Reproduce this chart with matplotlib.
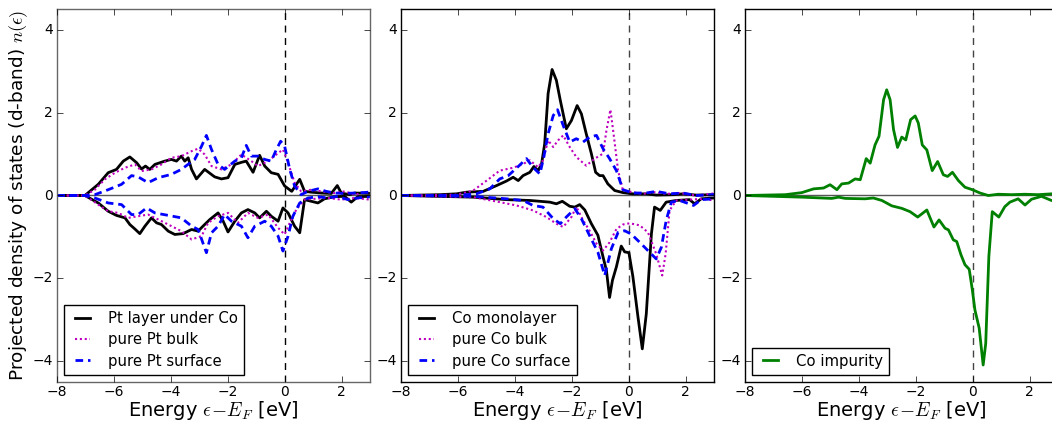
import matplotlib.pyplot as plt

plt.style.use('classic')
plt.rcParams['figure.facecolor'] = 'white'
plt.rcParams['savefig.facecolor'] = 'white'
plt.rcParams['font.family'] = ['DejaVu Sans']
plt.rcParams['mathtext.fontset'] = 'cm'
plt.rcParams['xtick.labelsize'] = 10
plt.rcParams['ytick.labelsize'] = 10
plt.rcParams['xtick.major.pad'] = 2.5
plt.rcParams['ytick.major.pad'] = 3

# ---- panel 1: Pt layer ----
pt_layer_up_e = [-8.0, -7.02, -6.55, -6.20, -5.91, -5.67, -5.44, -5.20, -5.03, -4.89, -4.74, -4.56, -4.21,
                 -3.98, -3.80, -3.63, -3.51, -3.39, -3.27, -3.10, -2.81, -2.46, -2.22, -1.99, -1.75, -1.52,
                 -1.35, -1.11, -0.88, -0.70, -0.47, -0.23, 0.0, 0.25, 0.53, 0.70, 0.94, 1.29, 1.64, 1.85,
                 1.99, 2.28, 2.46, 3.0]
pt_layer_up = [0, 0, 0.27, 0.55, 0.63, 0.83, 0.93, 0.79, 0.64, 0.71, 0.63, 0.75, 0.83,
               0.87, 0.83, 0.95, 0.83, 0.91, 0.63, 0.40, 0.63, 0.45, 0.40, 0.43, 0.75, 0.80,
               0.83, 0.56, 0.97, 0.71, 0.55, 0.51, 0.23, 0.10, 0.39, 0.10, 0.08, 0.06, 0.05, 0.24,
               0.06, 0.02, 0.06, 0.05]
pt_layer_dn_e = [-8.0, -7.02, -6.55, -6.20, -5.91, -5.61, -5.44, -5.26, -5.09, -4.91, -4.68, -4.50, -4.33,
                 -4.09, -3.86, -3.57, -3.27, -3.04, -2.87, -2.63, -2.34, -2.16, -1.99, -1.75, -1.52, -1.29,
                 -1.05, -0.88, -0.64, -0.47, -0.23, -0.06, 0.12, 0.35, 0.53, 0.70, 0.94, 1.17, 1.40, 1.75,
                 2.11, 2.34, 2.57, 3.0]
pt_layer_dn = [0, 0, -0.18, -0.38, -0.48, -0.54, -0.70, -0.81, -0.92, -0.74, -0.54, -0.66, -0.70,
               -0.86, -0.94, -0.92, -0.82, -0.86, -0.74, -0.58, -0.42, -0.62, -0.88, -0.62, -0.42, -0.34,
               -0.42, -0.54, -0.38, -0.50, -0.62, -0.30, -0.42, -0.74, -0.90, -0.10, -0.14, -0.18, -0.08, -0.03,
               -0.02, -0.16, -0.03, -0.02]

pt_bulk_up_e = [-8.0, -7.02, -6.67, -6.32, -5.96, -5.61, -5.26, -5.03, -4.68, -4.33, -3.98, -3.63, -3.27,
                -3.04, -2.81, -2.57, -2.22, -1.87, -1.52, -1.17, -0.94, -0.58, -0.29, -0.06, 0.12, 0.35,
                0.58, 0.94, 1.29, 1.75, 2.11, 2.46, 3.0]
pt_bulk_up = [0, 0, 0.14, 0.39, 0.55, 0.67, 0.75, 0.59, 0.63, 0.75, 0.91, 0.95, 1.07,
              1.13, 0.99, 0.71, 0.63, 0.75, 0.99, 0.83, 0.71, 0.83, 0.99, 1.11, 0.79, 0.31,
              0.10, 0.14, 0.10, 0.06, 0.10, 0.02, 0.10]
pt_bulk_dn_e = [-8.0, -7.02, -6.55, -6.20, -5.85, -5.50, -5.15, -4.80, -4.44, -4.09, -3.63, -3.27, -2.92,
                -2.69, -2.34, -1.99, -1.64, -1.29, -0.94, -0.58, -0.23, 0.0, 0.18, 0.41, 0.70, 1.05,
                1.52, 1.99, 2.46, 3.0]
pt_bulk_dn = [0, 0, -0.22, -0.38, -0.42, -0.54, -0.50, -0.46, -0.58, -0.70, -0.86, -1.06, -0.98,
              -0.66, -0.50, -0.42, -0.66, -0.42, -0.54, -0.46, -0.78, -0.94, -0.66, -0.34, -0.10, -0.08,
              -0.06, -0.10, -0.06, -0.10]

pt_surf_up_e = [-8.0, -7.02, -6.67, -6.20, -5.73, -5.38, -5.15, -4.80, -4.44, -3.98, -3.63, -3.16, -2.92,
                -2.75, -2.57, -2.34, -2.11, -1.75, -1.52, -1.35, -1.17, -0.94, -0.70, -0.47, -0.29, -0.14,
                0.0, 0.18, 0.35, 0.58, 0.82, 1.17, 1.46, 1.75, 2.11, 2.46, 3.0]
pt_surf_up = [0, 0, 0.02, 0.14, 0.27, 0.48, 0.45, 0.31, 0.43, 0.51, 0.63, 0.87, 1.19,
              1.45, 1.11, 0.75, 0.63, 0.83, 0.91, 1.21, 0.95, 0.95, 0.87, 0.83, 1.11, 1.31,
              1.19, 0.63, 0.23, 0.02, 0.10, 0.16, 0.10, 0.06, 0.05, 0.06, 0.08]
pt_surf_dn_e = [-8.0, -7.02, -6.67, -6.20, -5.73, -5.38, -5.15, -4.85, -4.56, -4.09, -3.63, -3.27, -3.04,
                -2.75, -2.57, -2.34, -2.11, -1.87, -1.52, -1.29, -1.05, -0.70, -0.47, -0.23, -0.06, 0.12,
                0.29, 0.53, 0.82, 1.17, 1.52, 1.87, 2.22, 2.57, 3.0]
pt_surf_dn = [0, 0, -0.06, -0.18, -0.22, -0.46, -0.46, -0.30, -0.42, -0.48, -0.54, -0.74, -0.82,
              -1.38, -0.90, -0.74, -0.46, -0.62, -0.74, -1.02, -0.74, -0.62, -0.74, -0.98, -1.34, -0.98,
              -0.50, -0.18, -0.06, -0.03, -0.06, -0.02, -0.10, -0.06, -0.03]

# ---- panel 2: Co monolayer ----
co_mono_up_e = [-8.0, -6.63, -6.05, -5.70, -5.11, -4.64, -4.29, -4.06, -3.88, -3.71, -3.47, -3.33, -3.18,
                -3.06, -2.95, -2.83, -2.69, -2.54, -2.40, -2.19, -2.01, -1.81, -1.66, -1.49, -1.31, -1.16,
                -1.02, -0.90, -0.73, -0.49, -0.20, 0.15, 0.62, 0.97, 1.56, 1.91, 2.37, 3.0]
co_mono_up = [0, 0.02, 0.04, 0.08, 0.10, 0.24, 0.35, 0.44, 0.36, 0.48, 0.56, 0.70, 0.60,
              0.76, 1.25, 2.46, 3.04, 2.78, 2.29, 1.61, 1.81, 2.17, 1.97, 1.49, 1.01, 0.56,
              0.48, 0.48, 0.28, 0.12, 0.07, 0.04, 0.04, 0.01, 0.02, 0.04, 0.01, 0.02]
co_mono_dn_e = [-8.0, -5.46, -4.29, -3.47, -2.77, -2.54, -2.33, -2.07, -1.89, -1.72, -1.54, -1.31, -1.08,
                -0.90, -0.78, -0.67, -0.57, -0.43, -0.26, -0.14, 0.01, 0.15, 0.33, 0.48, 0.62, 0.80,
                0.91, 1.11, 1.32, 1.67, 2.14, 2.32, 2.55, 3.0]
co_mono_dn = [0, -0.04, -0.10, -0.12, -0.16, -0.20, -0.14, -0.26, -0.28, -0.22, -0.35, -0.68, -0.96,
              -1.48, -1.81, -2.46, -2.05, -1.72, -1.22, -1.36, -1.38, -1.96, -2.94, -3.70, -2.86, -0.93,
              -0.28, -0.36, -0.16, -0.12, -0.10, -0.20, -0.08, -0.06]

co_bulk_up_e = [-8.0, -6.05, -5.46, -4.99, -4.53, -4.06, -3.71, -3.47, -3.18, -3.01, -2.83, -2.65, -2.48,
                -2.30, -2.07, -1.84, -1.49, -1.19, -0.90, -0.78, -0.64, -0.53, -0.37, -0.20, 0.15, 0.50,
                0.91, 1.32, 1.79, 2.37, 3.0]
co_bulk_up = [0, 0.02, 0.12, 0.36, 0.60, 0.67, 0.76, 0.85, 0.68, 0.85, 1.33, 1.17, 1.33,
              1.45, 1.17, 0.93, 0.72, 0.89, 1.01, 1.57, 2.07, 1.49, 0.60, 0.12, 0.08, 0.04,
              0.08, 0.04, 0.06, 0.0, 0.05]
co_bulk_dn_e = [-8.0, -5.46, -4.53, -3.94, -3.36, -2.89, -2.54, -2.30, -2.01, -1.84, -1.60, -1.37, -1.13,
                -0.90, -0.67, -0.43, -0.20, 0.04, 0.39, 0.68, 0.97, 1.18, 1.30, 1.44, 1.67, 2.14,
                2.61, 3.0]
co_bulk_dn = [0, -0.04, -0.16, -0.24, -0.36, -0.52, -0.68, -0.76, -0.52, -0.27, -0.60, -0.85, -1.16,
              -1.33, -1.13, -0.81, -0.70, -0.67, -0.72, -0.89, -1.41, -1.93, -1.41, -0.36, -0.12, -0.10,
              -0.08, -0.12]

co_surf_up_e = [-8.0, -6.05, -5.35, -4.88, -4.53, -4.23, -3.88, -3.59, -3.36, -3.12, -2.98, -2.83, -2.65,
                -2.50, -2.30, -2.07, -1.84, -1.60, -1.37, -1.13, -0.90, -0.67, -0.43, -0.20, 0.15, 0.62,
                0.97, 1.44, 1.91, 2.37, 3.0]
co_surf_up = [0, 0, 0.04, 0.16, 0.40, 0.48, 0.70, 0.89, 0.68, 0.52, 0.93, 1.49, 1.93,
              2.07, 1.69, 1.29, 1.37, 1.29, 1.41, 1.45, 1.13, 0.89, 0.60, 0.14, 0.06, 0.06,
              0.10, 0.04, 0.06, 0.0, 0.02]
co_surf_dn_e = [-8.0, -5.46, -4.29, -3.71, -3.36, -3.01, -2.65, -2.40, -2.19, -1.89, -1.66, -1.37, -1.08,
                -0.84, -0.61, -0.37, -0.14, 0.09, 0.39, 0.68, 0.97, 1.15, 1.32, 1.50, 1.79, 2.08,
                2.28, 2.55, 3.0]
co_surf_dn = [0, -0.02, -0.08, -0.12, -0.24, -0.28, -0.56, -0.68, -0.52, -0.32, -0.56, -0.97, -1.37,
              -1.93, -1.29, -0.89, -0.85, -0.93, -1.13, -1.33, -1.53, -1.25, -0.60, -0.16, -0.12, -0.19,
              -0.24, -0.10, -0.08]

# ---- panel 3: Co impurity ----
co_imp_up_e = [-8.0, -6.58, -6.00, -5.59, -5.24, -5.01, -4.77, -4.60, -4.36, -4.13, -3.95, -3.74, -3.60,
               -3.43, -3.29, -3.13, -3.02, -2.90, -2.78, -2.64, -2.49, -2.35, -2.18, -2.02, -1.91, -1.77,
               -1.61, -1.42, -1.23, -1.03, -0.88, -0.71, -0.50, -0.27, -0.01, 0.26, 0.55, 0.90, 1.37,
               1.84, 2.30, 2.77, 3.0]
co_imp_up = [0, 0.02, 0.07, 0.16, 0.18, 0.26, 0.14, 0.28, 0.30, 0.40, 0.38, 0.89, 0.78,
             1.22, 1.43, 2.31, 2.55, 2.31, 1.59, 1.16, 1.41, 1.34, 1.83, 1.92, 1.75, 1.22,
             1.10, 0.60, 0.82, 0.50, 0.46, 0.56, 0.36, 0.20, 0.14, 0.06, 0.0, 0.03, 0.02,
             0.03, 0.02, 0.04, 0.05]
co_imp_dn_e = [-8.0, -6.00, -4.95, -4.71, -4.48, -3.78, -3.49, -3.19, -2.84, -2.49, -2.20, -1.93, -1.61,
               -1.36, -1.18, -0.97, -0.85, -0.68, -0.56, -0.41, -0.27, -0.12, -0.01, 0.08, 0.23, 0.37,
               0.46, 0.57, 0.69, 0.92, 1.13, 1.31, 1.60, 1.84, 2.07, 2.42, 2.77, 3.0]
co_imp_dn = [0, -0.04, -0.07, -0.04, -0.07, -0.08, -0.06, -0.12, -0.25, -0.31, -0.39, -0.52, -0.35,
             -0.76, -0.59, -0.79, -0.83, -1.07, -1.11, -1.43, -1.67, -1.78, -2.28, -2.76, -3.20, -4.09,
             -3.57, -1.47, -0.39, -0.52, -0.27, -0.16, -0.08, -0.23, -0.09, -0.02, -0.12, -0.14]

xlabel = r'Energy $\epsilon\!-\!E_F$ [eV]'
ylabel = r'Projected density of states (d-band) $n(\epsilon)$'

black = dict(color='k', ls='-', lw=2)
pink = dict(color='m', ls=':', lw=1.5, dashes=(1.5, 2))
blue = dict(color='b', ls='--', lw=2, dashes=(5.5, 3.5))
green = dict(color='g', ls='-', lw=2)

panels = [
    ([(pt_layer_up_e, pt_layer_up, pt_layer_dn_e, pt_layer_dn, black, 'Pt layer under Co'),
      (pt_bulk_up_e, pt_bulk_up, pt_bulk_dn_e, pt_bulk_dn, pink, 'pure Pt bulk'),
      (pt_surf_up_e, pt_surf_up, pt_surf_dn_e, pt_surf_dn, blue, 'pure Pt surface')], 'k', '#666666'),
    ([(co_mono_up_e, co_mono_up, co_mono_dn_e, co_mono_dn, black, 'Co monolayer'),
      (co_bulk_up_e, co_bulk_up, co_bulk_dn_e, co_bulk_dn, pink, 'pure Co bulk'),
      (co_surf_up_e, co_surf_up, co_surf_dn_e, co_surf_dn, blue, 'pure Co surface')], '#444444', 'k'),
    ([(co_imp_up_e, co_imp_up, co_imp_dn_e, co_imp_dn, green, 'Co impurity')], '#444444', 'k'),
]

W, H = 1052., 423.
fig = plt.figure(figsize=(10.52, 4.23), dpi=100)
lefts = [57, 401, 745]

for i, (curves, vcol, scol) in enumerate(panels):
    ax = fig.add_axes([lefts[i] / W, (H - 382) / H, 313 / W, 373 / H])
    handles = []
    for ue, u, de, d, st, lab in curves:
        h, = ax.plot(ue, u, label=lab, **st)
        ax.plot(de, d, **st)
        handles.append(h)
    ax.axhline(0, color='#555555', lw=1, zorder=0)
    ax.axvline(0, color=vcol, ls='--', lw=1, dashes=(5, 4), zorder=0)
    ax.set_xlim(-8, 3)
    ax.set_ylim(-4.5, 4.5)
    ax.set_xticks([-8, -6, -4, -2, 0, 2])
    ax.set_yticks([-4, -2, 0, 2, 4])
    for sp in ax.spines.values():
        sp.set_color(scol)
    ax.set_xlabel(xlabel, fontsize=14, labelpad=0)
    if i == 0:
        ax.set_ylabel(ylabel, fontsize=13.3, labelpad=2)
    leg = ax.legend(handles=handles, loc='lower left', fontsize=10.7,
                    handlelength=1.6, handletextpad=0.95, labelspacing=0.42)
    leg.get_frame().set_linewidth(1)

fig.savefig('out.png', dpi=100)
